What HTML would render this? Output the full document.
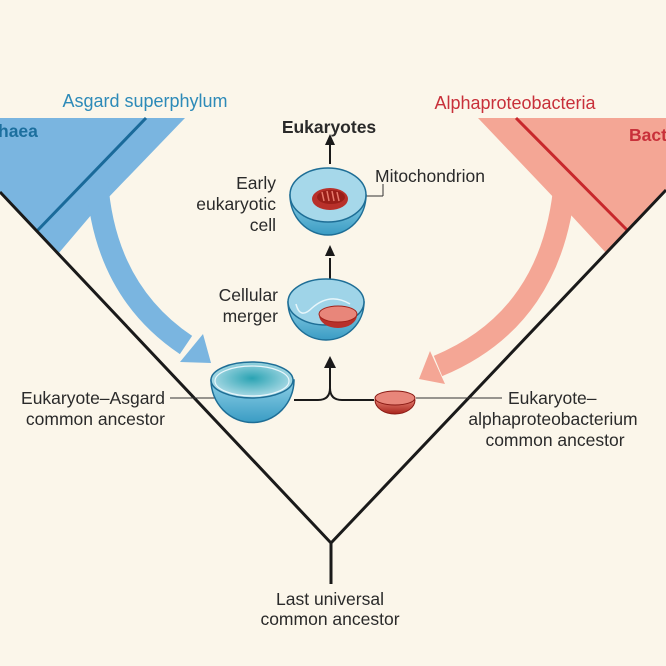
<!DOCTYPE html>
<html><head><meta charset="utf-8"><style>
html,body{margin:0;padding:0;background:#fbf6ea;}
svg{display:block;}
text{font-family:"Liberation Sans",sans-serif;font-size:17.5px;fill:#2a2a2a;}
</style></head><body>
<svg width="666" height="666" viewBox="0 0 666 666" xmlns="http://www.w3.org/2000/svg">
<defs>
<radialGradient id="bl" cx="50%" cy="45%" r="60%"><stop offset="0" stop-color="#2aa3b3"/><stop offset="1" stop-color="#bfe3ee"/></radialGradient>
<linearGradient id="bowl" x1="0" y1="0" x2="0" y2="1"><stop offset="0" stop-color="#8fd0e6"/><stop offset="1" stop-color="#3a9cc4"/></linearGradient>
<linearGradient id="red" x1="0" y1="0" x2="0" y2="1"><stop offset="0" stop-color="#e27a6c"/><stop offset="1" stop-color="#a8241c"/></linearGradient>
</defs>
<rect width="666" height="666" fill="#fbf6ea"/>
<!-- blue archaea shape -->
<path d="M0 118 L185 118 L106 200 L92 214 L58 254 L0 192 Z" fill="#7ab5e0"/>
<path d="M97 180 Q104 290 186 345" fill="none" stroke="#7ab5e0" stroke-width="22"/>
<path d="M211 363 L203 334 L180 362 Z" fill="#7ab5e0"/>
<line x1="146" y1="118" x2="36" y2="232" stroke="#1a6a9a" stroke-width="3"/>
<!-- red bacteria shape -->
<path d="M666 118 L478 118 L556 200 L570 214 L607 254 L666 190 Z" fill="#f4a695"/>
<path d="M565 180 Q554 318 438 366" fill="none" stroke="#f4a695" stroke-width="22"/>
<path d="M419 379 L430 351 L445 384 Z" fill="#f4a695"/>
<line x1="516" y1="118" x2="628" y2="231" stroke="#c8282c" stroke-width="3"/>
<!-- black tree -->
<polyline points="0,192 331,543 666,190" fill="none" stroke="#1a1a1a" stroke-width="3"/>
<line x1="331" y1="543" x2="331" y2="584" stroke="#1a1a1a" stroke-width="3"/>
<!-- connectors -->
<path d="M294 400 L318 400 Q330 400 330 388 L330 366" fill="none" stroke="#1a1a1a" stroke-width="2"/>
<path d="M330 388 Q330 400 342 400 L374 400" fill="none" stroke="#1a1a1a" stroke-width="2"/>
<path d="M324 368 L330 356 L336 368 Z" fill="#1a1a1a"/>
<line x1="170" y1="398" x2="215" y2="398" stroke="#333" stroke-width="1"/>
<line x1="416" y1="398" x2="502" y2="398" stroke="#333" stroke-width="1"/>
<line x1="330" y1="258" x2="330" y2="280" stroke="#1a1a1a" stroke-width="2"/>
<path d="M325 256 L330 245 L335 256 Z" fill="#1a1a1a"/>
<line x1="330" y1="142" x2="330" y2="164" stroke="#1a1a1a" stroke-width="2"/>
<path d="M325 145 L330 134 L335 145 Z" fill="#1a1a1a"/>
<line x1="352" y1="196" x2="383" y2="196" stroke="#333" stroke-width="1"/>
<line x1="383" y1="196" x2="383" y2="184" stroke="#333" stroke-width="1"/>
<!-- ancestor cell -->
<path d="M211 380 A41 42 0 0 0 294 380 Z" fill="url(#bowl)" stroke="#1e6e96" stroke-width="1.5"/>
<ellipse cx="252" cy="380" rx="41" ry="18" fill="url(#bl)" stroke="#1e6e96" stroke-width="1.5"/>
<ellipse cx="252" cy="381" rx="37" ry="15" fill="none" stroke="#e8f6fb" stroke-width="1.2"/>
<!-- merger cell -->
<path d="M288 302 A38 38 0 0 0 364 302 Z" fill="url(#bowl)" stroke="#1e6e96" stroke-width="1.5"/>
<ellipse cx="326" cy="302" rx="38" ry="23" fill="#9fd4e8" stroke="#1e6e96" stroke-width="1.5"/>
<path d="M296 304 Q300 320 312 308 Q330 292 350 304" fill="none" stroke="#e8f6fb" stroke-width="1.5"/>
<path d="M319 315 A19 13 0 0 0 357 315 Z" fill="#b8302a"/>
<ellipse cx="338" cy="314" rx="19" ry="8" fill="#e8867a" stroke="#a02018" stroke-width="1"/>
<!-- early cell -->
<path d="M290 195 A38 40 0 0 0 366 195 Z" fill="url(#bowl)" stroke="#1e6e96" stroke-width="1.5"/>
<ellipse cx="328" cy="195" rx="38" ry="27" fill="#a6d8ea" stroke="#1e6e96" stroke-width="1.5"/>
<ellipse cx="330" cy="199" rx="18" ry="11" fill="#b8302a"/>
<ellipse cx="331" cy="197" rx="14" ry="7" fill="#9a1e18"/>
<path d="M322 192 l2 9 M327 191 l2 10 M332 191 l2 10 M337 192 l2 9" stroke="#e87a6c" stroke-width="1.5"/>
<!-- small red cell -->
<path d="M375 400 A20 14 0 0 0 415 400 Z" fill="url(#red)" stroke="#8a1a14" stroke-width="1"/>
<ellipse cx="395" cy="398" rx="20" ry="7" fill="#e8867a" stroke="#8a1a14" stroke-width="1"/>
<!-- labels -->
<text x="145" y="107" text-anchor="middle" style="fill:#2d8ab8;font-size:18px">Asgard superphylum</text>
<text x="-2" y="137" style="fill:#1c6f9e;font-weight:bold">haea</text>
<text x="515" y="109" text-anchor="middle" style="fill:#c8303a;font-size:18px">Alphaproteobacteria</text>
<text x="629" y="141" style="fill:#c8303a;font-weight:bold">Bact</text>
<text x="329" y="133" text-anchor="middle" style="font-weight:bold">Eukaryotes</text>
<text x="375" y="182">Mitochondrion</text>
<text x="276" y="189" text-anchor="end">Early</text>
<text x="276" y="210" text-anchor="end">eukaryotic</text>
<text x="276" y="231" text-anchor="end">cell</text>
<text x="278" y="301" text-anchor="end">Cellular</text>
<text x="278" y="322" text-anchor="end">merger</text>
<text x="165" y="404" text-anchor="end">Eukaryote–Asgard</text>
<text x="165" y="425" text-anchor="end">common ancestor</text>
<text x="508" y="404">Eukaryote–</text>
<text x="553" y="425" text-anchor="middle">alphaproteobacterium</text>
<text x="555" y="446" text-anchor="middle">common ancestor</text>
<text x="330" y="605" text-anchor="middle">Last universal</text>
<text x="330" y="625" text-anchor="middle">common ancestor</text>
</svg>
</body></html>
